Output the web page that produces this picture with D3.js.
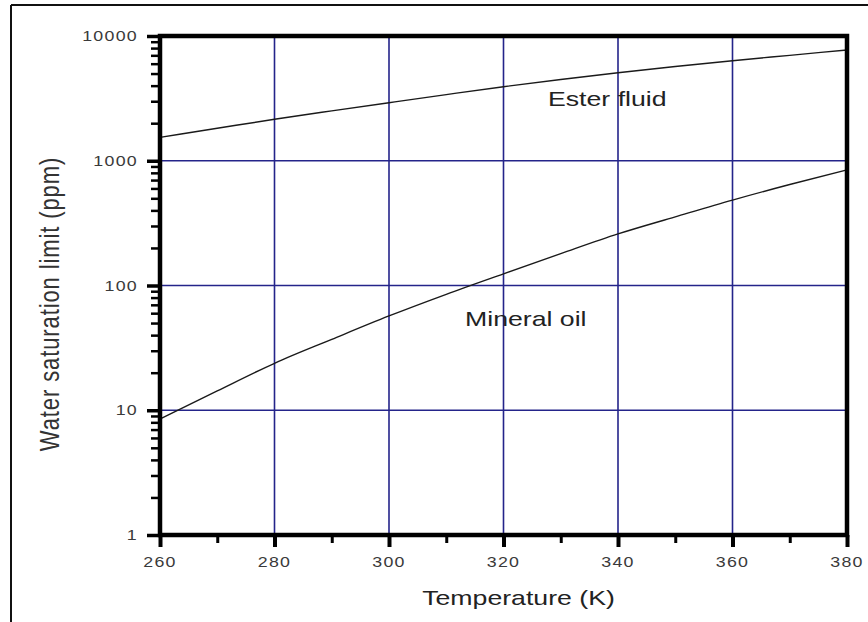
<!DOCTYPE html>
<html>
<head>
<meta charset="utf-8">
<script src="https://cdn.jsdelivr.net/npm/d3@7"></script>
<style>
  html, body { margin: 0; padding: 0; background: #fff; }
  svg { display: block; }
</style>
</head>
<body>
<div class="chart"></div>
<script>
// values
const temperatures = [260, 270, 280, 290, 300, 310, 320, 330, 340, 350, 360, 370, 380];
const esterFluid = [1540, 1820, 2150, 2510, 2920, 3390, 3920, 4480, 5080, 5700, 6340, 7000, 7730];
const mineralOil = [8.5, 14.3, 23.8, 37, 57, 85, 124, 180, 259, 355, 484, 645, 845];

const xTicks = [260, 280, 300, 320, 340, 360, 380];
const xMinorTicks = [270, 290, 310, 330, 350, 370];
const yTicks = [1, 10, 100, 1000, 10000];
const yTickLabels = ['1', '10', '100', '1000', '10000'];

const width = 868;
const height = 622;
const margin = { top: 36, right: 21, bottom: 87, left: 160 };
const sx = 1.27; // the scan is stretched sideways

const font = '"Liberation Sans", Arial, sans-serif';

const svg = d3
  .select('.chart')
  .append('svg')
  .attr('width', width)
  .attr('height', height);

const x = d3
  .scaleLinear()
  .domain([260, 380])
  .range([margin.left, width - margin.right]);

const y = d3
  .scaleLog()
  .domain([1, 10000])
  .range([height - margin.bottom, margin.top]);

// outer frame of the cropped figure
svg.append('line')
  .attr('x1', 11).attr('x2', 11).attr('y1', 5).attr('y2', height)
  .attr('stroke', '#111').attr('stroke-width', 2);
svg.append('line')
  .attr('x1', 11).attr('x2', width).attr('y1', 5).attr('y2', 5)
  .attr('stroke', '#111').attr('stroke-width', 2);

// grid
const grid = svg.append('g').attr('stroke', '#24248a').attr('stroke-width', 1.6);
grid.selectAll('.gx')
  .data(xTicks.slice(1, -1))
  .enter()
  .append('line')
  .attr('x1', (d) => x(d)).attr('x2', (d) => x(d))
  .attr('y1', y(10000)).attr('y2', y(1));
grid.selectAll('.gy')
  .data(yTicks.slice(1, -1))
  .enter()
  .append('line')
  .attr('x1', x(260)).attr('x2', x(380))
  .attr('y1', (d) => y(d)).attr('y2', (d) => y(d));

// curves
const line = d3
  .line()
  .x((d) => x(d[0]))
  .y((d) => y(d[1]))
  .curve(d3.curveMonotoneX);

[esterFluid, mineralOil].forEach((series) => {
  svg.append('path')
    .datum(temperatures.map((t, i) => [t, series[i]]))
    .attr('fill', 'none')
    .attr('stroke', '#1a1a1a')
    .attr('stroke-width', 1.4)
    .attr('d', line);
});

// axes: ticks only, labels drawn below
const yMinor = [];
[1, 10, 100, 1000].forEach((dec) => {
  for (let k = 2; k <= 9; k++) yMinor.push(dec * k);
});

svg.append('g')
  .attr('transform', `translate(0, ${y(1)})`)
  .call(d3.axisBottom(x).tickValues(xTicks).tickSize(12).tickFormat(''))
  .call((g) => g.selectAll('.tick line').attr('stroke', '#000').attr('stroke-width', 4))
  .call((g) => g.select('.domain').remove());

svg.append('g')
  .attr('transform', `translate(0, ${y(1)})`)
  .call(d3.axisBottom(x).tickValues(xMinorTicks).tickSize(8).tickFormat(''))
  .call((g) => g.selectAll('.tick line').attr('stroke', '#000').attr('stroke-width', 3))
  .call((g) => g.select('.domain').remove());

svg.append('g')
  .attr('transform', `translate(${x(260)}, 0)`)
  .call(d3.axisLeft(y).tickValues(yTicks).tickSize(13).tickFormat(''))
  .call((g) => g.selectAll('.tick line').attr('stroke', '#000').attr('stroke-width', 3.5))
  .call((g) => g.select('.domain').remove());

svg.append('g')
  .attr('transform', `translate(${x(260)}, 0)`)
  .call(d3.axisLeft(y).tickValues(yMinor).tickSize(9).tickFormat(''))
  .call((g) => g.selectAll('.tick line').attr('stroke', '#000').attr('stroke-width', 2.5))
  .call((g) => g.select('.domain').remove());

// plot frame
svg.append('rect')
  .attr('x', x(260))
  .attr('y', y(10000))
  .attr('width', x(380) - x(260))
  .attr('height', y(1) - y(10000))
  .attr('fill', 'none')
  .attr('stroke', '#000')
  .attr('stroke-width', 4.5);

// tick labels
svg.append('g')
  .selectAll('text')
  .data(xTicks)
  .enter()
  .append('text')
  .attr('transform', (d) => `translate(${x(d)}, 567) scale(${sx}, 1)`)
  .attr('text-anchor', 'middle')
  .attr('font-family', font)
  .attr('font-size', '14px')
  .attr('letter-spacing', '1px')
  .attr('fill', '#3a3a3a')
  .text((d) => d);

svg.append('g')
  .selectAll('text')
  .data(yTicks)
  .enter()
  .append('text')
  .attr('transform', (d) => `translate(138, ${y(d) + 5}) scale(${sx}, 1)`)
  .attr('text-anchor', 'end')
  .attr('font-family', font)
  .attr('font-size', '14px')
  .attr('letter-spacing', '1px')
  .attr('fill', '#3a3a3a')
  .text((d, i) => yTickLabels[i]);

// curve labels
svg.append('text')
  .attr('transform', `translate(548, 106) scale(${sx}, 1)`)
  .attr('font-family', font)
  .attr('font-size', '21px')
  .attr('fill', '#222')
  .text('Ester fluid');

svg.append('text')
  .attr('transform', `translate(465, 326) scale(${sx}, 1)`)
  .attr('font-family', font)
  .attr('font-size', '21px')
  .attr('fill', '#222')
  .text('Mineral oil');

// axis titles
svg.append('text')
  .attr('transform', `translate(${(x(260) + x(380)) / 2 + 15}, 605) scale(${sx}, 1)`)
  .attr('text-anchor', 'middle')
  .attr('font-family', font)
  .attr('font-size', '21px')
  .attr('fill', '#222')
  .text('Temperature (K)');

svg.append('text')
  .attr('transform', `translate(59, 304) scale(${sx}, 1) rotate(-90)`)
  .attr('text-anchor', 'middle')
  .attr('font-family', font)
  .attr('font-size', '22px')
  .attr('letter-spacing', '0.9px')
  .attr('fill', '#333')
  .text('Water saturation limit (ppm)');
</script>
</body>
</html>
